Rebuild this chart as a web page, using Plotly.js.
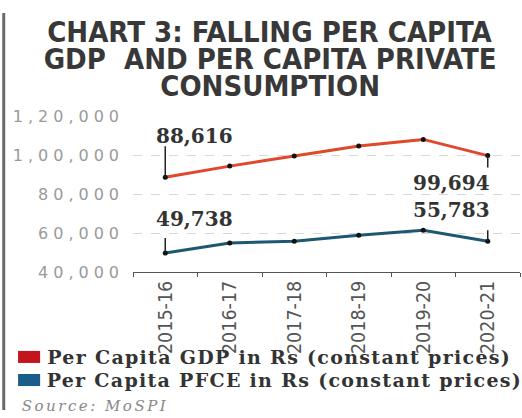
<!DOCTYPE html>
<html>
<head>
<meta charset="utf-8">
<script src="https://cdn.plot.ly/plotly-3.0.1.min.js"></script>
<style>
html,body{margin:0;padding:0;background:#fff;}
#chart{width:522px;height:418px;}
.ytick text{letter-spacing:5px;}
.xtick text{font-stretch:condensed;}
g.annotation[data-index="4"] text, g.annotation[data-index="5"] text, g.annotation[data-index="6"] text{font-stretch:condensed;}
g.annotation[data-index="7"] text, g.annotation[data-index="8"] text{letter-spacing:1.3px;}
g.annotation[data-index="9"] text{letter-spacing:2.5px;}
</style>
</head>
<body>
<div id="chart"></div>
<script>
const years = ["2015-16","2016-17","2017-18","2018-19","2019-20","2020-21"];
const gdpPerCapita = [88616, 94300, 99500, 104600, 108000, 99694];
const pfcePerCapita = [49738, 54900, 55800, 58900, 61400, 55783];
const yTickVals = [40000, 60000, 80000, 100000, 120000];
const yTickText = ["40,000", "60,000", "80,000", "1,00,000", "1,20,000"];
const titleLines = ["CHART 3: FALLING PER CAPITA", "GDP  AND PER CAPITA PRIVATE", "CONSUMPTION"];
const seriesNames = ["Per Capita GDP in Rs (constant prices)", "Per Capita PFCE in Rs (constant prices)"];
const seriesColors = ["#e0472c", "#1d5871"];
const legendColors = ["#c3161c", "#1b5d8a"];
const sourceText = "Source: MoSPI";

const fmt = v => v.toLocaleString('en-IN');
const last = years.length - 1;

const traces = [
  {x: years, y: gdpPerCapita, name: seriesNames[0], type: 'scatter', mode: 'lines+markers',
   line: {color: seriesColors[0], width: 3}, marker: {color: '#111', size: 5}, cliponaxis: false},
  {x: years, y: pfcePerCapita, name: seriesNames[1], type: 'scatter', mode: 'lines+markers',
   line: {color: seriesColors[1], width: 3}, marker: {color: '#111', size: 5}, cliponaxis: false}
];

const labelFont = {family: 'DejaVu Serif', size: 20, color: '#333', weight: 'bold'};
const annotations = [
  {x: years[0], y: gdpPerCapita[0], text: fmt(gdpPerCapita[0]), xanchor: 'left', yanchor: 'bottom', xshift: -11, yshift: 27, showarrow: false, font: labelFont},
  {x: years[last], y: gdpPerCapita[last], text: fmt(gdpPerCapita[last]), xanchor: 'right', yanchor: 'top', xshift: 4, yshift: -13, showarrow: false, font: labelFont},
  {x: years[0], y: pfcePerCapita[0], text: fmt(pfcePerCapita[0]), xanchor: 'left', yanchor: 'bottom', xshift: -11, yshift: 20, showarrow: false, font: labelFont},
  {x: years[last], y: pfcePerCapita[last], text: fmt(pfcePerCapita[last]), xanchor: 'right', yanchor: 'bottom', xshift: 4, yshift: 17, showarrow: false, font: labelFont}
];

// title lines
const titleY = [1.538, 1.365, 1.192];
titleLines.forEach((t, i) => annotations.push({
  xref: 'paper', yref: 'paper', x: 0.354, y: titleY[i], text: t, showarrow: false,
  xanchor: 'center', yanchor: 'middle',
  font: {family: 'DejaVu Sans', size: 29, color: '#383838', weight: 'bold'}
}));

// legend text (x compensates for the CSS letter-spacing, which Plotly does not measure)
const legY = [-0.545, -0.692];
seriesNames.forEach((n, i) => annotations.push({
  xref: 'paper', yref: 'paper', x: -0.164, y: legY[i], text: n, showarrow: false,
  xanchor: 'left', yanchor: 'middle',
  font: {family: 'DejaVu Serif', size: 19, color: '#333', weight: 'bold'}
}));
annotations.push({
  xref: 'paper', yref: 'paper', x: -0.250, y: -0.859, text: sourceText, showarrow: false,
  xanchor: 'left', yanchor: 'middle',
  font: {family: 'DejaVu Serif', size: 15, color: '#888', style: 'italic'}
});

const shapes = [
  // leader lines
  {type: 'line', xref: 'x', yref: 'y', x0: years[0], x1: years[0], ysizemode: 'pixel', yanchor: gdpPerCapita[0], y0: 0, y1: 31, line: {color: '#222', width: 1.5}},
  {type: 'line', xref: 'x', yref: 'y', x0: years[last], x1: years[last], ysizemode: 'pixel', yanchor: gdpPerCapita[last], y0: 0, y1: -12, line: {color: '#222', width: 1.5}},
  {type: 'line', xref: 'x', yref: 'y', x0: years[0], x1: years[0], ysizemode: 'pixel', yanchor: pfcePerCapita[0], y0: 0, y1: 15, line: {color: '#222', width: 1.5}},
  {type: 'line', xref: 'x', yref: 'y', x0: years[last], x1: years[last], ysizemode: 'pixel', yanchor: pfcePerCapita[last], y0: 0, y1: 11, line: {color: '#222', width: 1.5}},
  // legend swatches
  {type: 'rect', xref: 'paper', yref: 'paper', x0: -0.297, x1: -0.240, y0: -0.583, y1: -0.506, fillcolor: legendColors[0], line: {width: 0}},
  {type: 'rect', xref: 'paper', yref: 'paper', x0: -0.297, x1: -0.240, y0: -0.731, y1: -0.654, fillcolor: legendColors[1], line: {width: 0}},
  // left border bar
  {type: 'line', xref: 'paper', yref: 'paper', x0: -0.334, x1: -0.334, y0: 1.66, y1: -0.885, line: {color: '#6a6a6a', width: 3}}
];

const layout = {
  width: 522, height: 418,
  margin: {l: 133, r: 2, t: 116, b: 146},
  paper_bgcolor: '#fff', plot_bgcolor: '#fff',
  showlegend: false,
  xaxis: {
    type: 'category', range: [-0.5, 5.5], tickson: 'boundaries',
    ticks: 'outside', ticklen: 4, tickcolor: '#555',
    showline: true, linecolor: '#555', linewidth: 1,
    showgrid: false, zeroline: false, tickangle: -90,
    tickfont: {family: 'DejaVu Sans', size: 19.5, color: '#555'}
  },
  yaxis: {
    range: [40000, 120000], tickvals: yTickVals, ticktext: yTickText,
    showgrid: true, gridcolor: '#d8d8d8', griddash: 'dash', gridwidth: 1,
    zeroline: false, showline: false, ticks: '', ticklabelstandoff: 8,
    tickfont: {family: 'DejaVu Sans', size: 16, color: '#9a9a9a'}
  },
  annotations: annotations,
  shapes: shapes
};

Plotly.newPlot('chart', traces, layout, {displayModeBar: false, staticPlot: true});
</script>
</body>
</html>
